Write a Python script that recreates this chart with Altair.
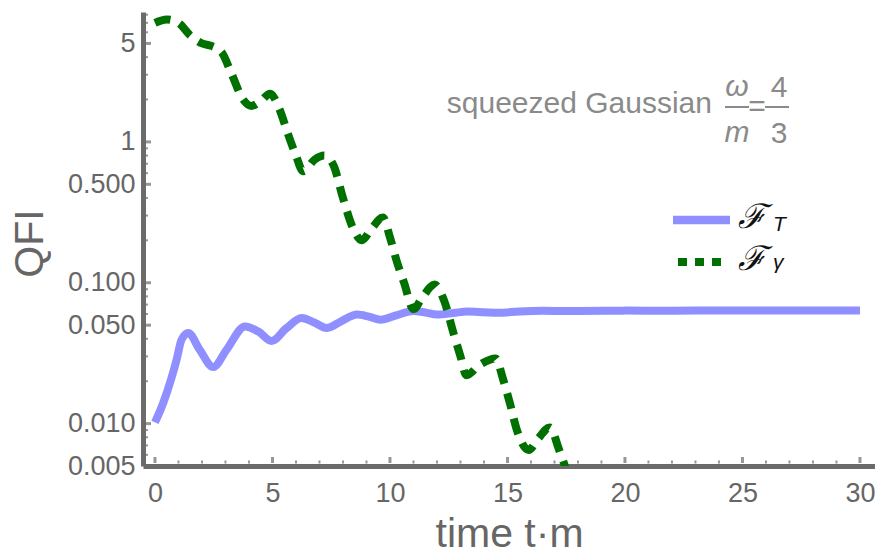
import altair as alt
import pandas as pd

# ---- data ----
t_T = [0, 0.35, 0.7, 0.92, 1.13, 1.42, 1.9, 2.48, 3.05, 3.83, 4.4, 4.96, 5.6, 6.24, 6.8, 7.3,
       7.9, 8.6, 9.1, 9.6, 10.3, 11.0, 11.5, 12.0, 12.7, 13.3, 14.0, 14.6, 15.5, 16.5, 18, 20,
       22, 24, 26, 28, 30]
F_T = [0.0102, 0.0140, 0.021, 0.0284, 0.0394, 0.0440, 0.0335, 0.0252, 0.0335, 0.0490, 0.0450,
       0.0386, 0.0477, 0.0563, 0.0520, 0.0477, 0.0530, 0.0594, 0.0575, 0.0547, 0.0590, 0.0630,
       0.0615, 0.0594, 0.0610, 0.0625, 0.0618, 0.0612, 0.0625, 0.0632, 0.0630, 0.0634, 0.0633,
       0.0635, 0.0634, 0.0636, 0.0636]

t_g = [0, 0.5, 1.0, 1.5, 2.0, 2.4, 2.85, 3.25, 3.75, 4.1, 4.5, 4.9, 5.3, 5.65, 6.0, 6.3, 6.8,
       7.2, 7.6, 8.0, 8.4, 8.8, 9.2, 9.7, 10.0, 10.3, 10.6, 11.0, 11.4, 11.9, 12.3, 12.7, 13.0,
       13.25, 13.8, 14.5, 14.8, 15.1, 15.4, 15.9, 16.3, 16.8, 17.2, 17.6]
F_g = [7.0, 7.4, 7.0, 5.7, 5.0, 4.8, 4.3, 3.07, 2.0, 1.8, 1.95, 2.2, 1.7, 1.15, 0.8, 0.62, 0.75,
       0.8, 0.68, 0.40, 0.25, 0.2, 0.24, 0.29, 0.21, 0.14, 0.10, 0.065, 0.08, 0.097, 0.075, 0.044,
       0.03, 0.022, 0.026, 0.029, 0.021, 0.014, 0.009, 0.0065, 0.0078, 0.0094, 0.0065, 0.0042]

x_ticks = [0, 5, 10, 15, 20, 25, 30]
x_minor = [i for i in range(0, 31) if i % 5 != 0]
y_ticks = [0.005, 0.01, 0.05, 0.1, 0.5, 1, 5]
y_minor = [0.006, 0.007, 0.008, 0.009, 0.02, 0.03, 0.04, 0.06, 0.07, 0.08, 0.09,
           0.2, 0.3, 0.4, 0.6, 0.7, 0.8, 0.9, 2, 3, 4, 6, 7, 8]

df_T = pd.DataFrame({"t": t_T, "F": F_T})
df_g = pd.DataFrame({"t": t_g, "F": F_g})

BLUE = "#8f8fff"
GREEN = "#007000"
AXIS = "#6b6b6b"
LABEL = "#666666"
ANNOT = "#8a8a8a"
FONT = "Liberation Sans"

xscale = alt.Scale(domain=[-0.51, 30.64], nice=False, zero=False)
yscale = alt.Scale(type="log", domain=[0.005, 8.36], nice=False)

label_expr = ("datum.value == 0.005 ? '0.005' : datum.value == 0.01 ? '0.010' : "
              "datum.value == 0.05 ? '0.050' : datum.value == 0.1 ? '0.100' : "
              "datum.value == 0.5 ? '0.500' : datum.label")

x_enc = alt.X("t:Q", scale=xscale, axis=alt.Axis(
    values=x_ticks, title="time t·m", grid=False, ticks=False,
    labelFontSize=27, labelColor=LABEL, labelFont=FONT, labelPadding=14,
    titleFontSize=41, titleColor=LABEL, titleFont=FONT, titleFontWeight="normal",
    titleBaseline="alphabetic", titleY=80,
    domainColor=AXIS, domainWidth=5, labelFlush=False))
y_enc = alt.Y("F:Q", scale=yscale, axis=alt.Axis(
    values=y_ticks, title="QFI", grid=False, ticks=False, labelExpr=label_expr,
    labelFontSize=27, labelColor=LABEL, labelFont=FONT, labelPadding=8,
    titleFontSize=41, titleColor=LABEL, titleFont=FONT, titleFontWeight="normal",
    titleX=-113, titleY=231, titleBaseline="middle", titleAlign="center",
    domainColor=AXIS, domainWidth=5, labelFlush=False))

blue = alt.Chart(df_T).mark_line(color=BLUE, strokeWidth=8, interpolate="monotone",
                                 clip=True, strokeCap="butt").encode(x=x_enc, y=y_enc)
green = alt.Chart(df_g).mark_line(color=GREEN, strokeWidth=8, interpolate="monotone",
                                  clip=True, strokeDash=[16, 10], strokeCap="butt").encode(x="t:Q", y="F:Q")

# inward tick marks along both axes
xt_major = alt.Chart(pd.DataFrame({"t": x_ticks})).mark_tick(
    color=AXIS, thickness=3, size=6).encode(x="t:Q", y=alt.value(448))
xt_minor = alt.Chart(pd.DataFrame({"t": x_minor})).mark_tick(
    color=AXIS, thickness=2, size=3).encode(x="t:Q", y=alt.value(450))
yt_major = alt.Chart(pd.DataFrame({"F": y_ticks})).mark_tick(
    color=AXIS, thickness=3, size=6).encode(y="F:Q", x=alt.value(5))
yt_minor = alt.Chart(pd.DataFrame({"F": y_minor})).mark_tick(
    color=AXIS, thickness=2, size=3).encode(y="F:Q", x=alt.value(3.5))

one = alt.Data(values=[{}])


def txt(text, x, y, size, color, align="left", style="normal", font=FONT):
    return alt.Chart(one).mark_text(text=text, align=align, baseline="alphabetic",
                                    fontSize=size, color=color, font=font,
                                    fontStyle=style).encode(x=alt.value(x), y=alt.value(y))


def seg(x1, x2, y, color, width, dash=None):
    kw = dict(color=color, strokeWidth=width, strokeCap="butt")
    if dash:
        kw["strokeDash"] = dash
    return alt.Chart(one).mark_rule(**kw).encode(x=alt.value(x1), x2=alt.value(x2), y=alt.value(y))


annotation = [
    txt("squeezed Gaussian", 569, 101, 30, ANNOT, align="right"),
    txt("ω", 594, 84, 30, ANNOT, align="center", style="italic"),
    seg(582, 606, 95, ANNOT, 2),
    txt("m", 594, 130, 30, ANNOT, align="center", style="italic"),
    txt("=", 614, 104, 30, ANNOT, align="center"),
    seg(622, 646, 95, ANNOT, 2),
    txt("4", 636, 85, 30, ANNOT, align="center"),
    txt("3", 636, 131, 30, ANNOT, align="center"),
]

legend = [
    seg(530, 587, 208, BLUE, 8.5),
    seg(535, 578, 250, GREEN, 8, dash=[9, 8]),
    txt("ℱ", 595, 216, 34, "#111111", style="italic", font="DejaVu Serif"),
    txt("T", 630, 219, 21, "#111111", style="italic"),
    txt("ℱ", 595, 258, 34, "#111111", style="italic", font="DejaVu Serif"),
    txt("γ", 630, 257, 21, "#111111", style="italic"),
]

chart = alt.layer(blue, green, xt_major, xt_minor, yt_major, yt_minor,
                  *annotation, *legend).properties(
    width=732, height=454,
    background="white",
    autosize=alt.AutoSizeParams(type="none"),
    padding={"left": 143, "top": 12, "right": 0, "bottom": 89},
).configure_view(strokeWidth=0, stroke="transparent")

chart.save("out.html", embed_options={"renderer": "svg", "actions": False})
